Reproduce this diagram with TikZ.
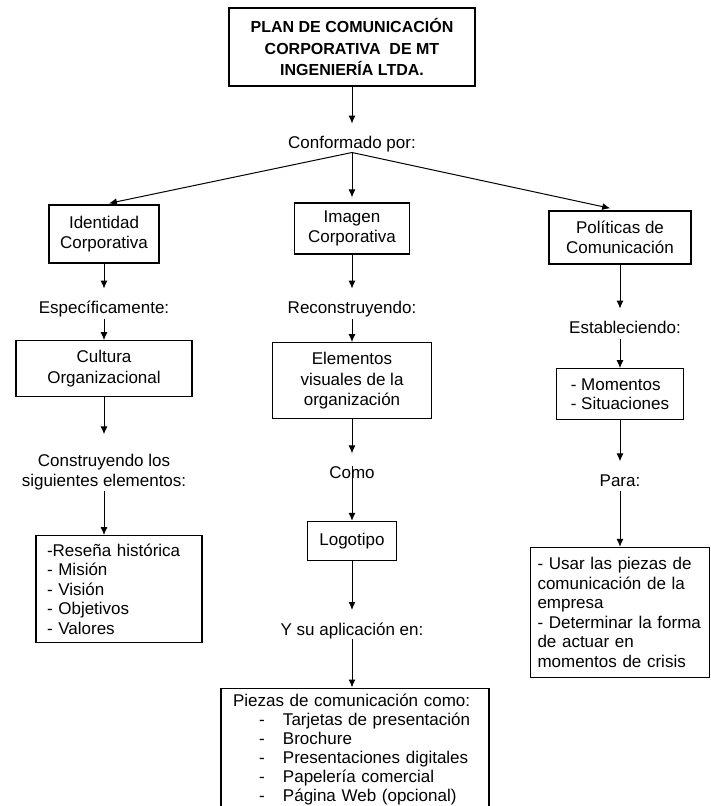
\documentclass[tikz,border=0pt]{standalone}
\usepackage{fontspec}
\setmainfont{Liberation Sans}
\usetikzlibrary{arrows.meta, positioning}
\tikzset{%
  >={Latex[width=7pt,length=8pt]},
  % Estilos de los nodos:
        base/.style = {rectangle, draw=black, line width=1.2pt,
                           align=center, inner sep=4pt,
                           font=\fontsize{17}{20.5}\selectfont},
        titulo/.style = {base, minimum width=246pt, minimum height=78pt,
                           font=\fontsize{16}{21.5}\selectfont\bfseries},
        lista/.style = {base, align=left,
                           font=\fontsize{17}{19.5}\selectfont},
        etiqueta/.style = {inner sep=0pt, text height=12pt, text depth=3.5pt,
                           font=\fontsize{17}{19.5}\selectfont},
        flecha/.style = {->, line width=1pt},
        hacia/.style = {flecha, shorten >=13pt},
        desde/.style = {flecha, shorten <=1pt}
}
\newcommand{\pieza}[1]{\makebox[26pt][l]{}\makebox[24pt][l]{-}#1}

\begin{document}
\begin{tikzpicture}[x=1pt, y=1pt]
  \useasboundingbox (0,0) rectangle (710,-806);
  % Nodos (posicion, etc.)
    \node (plan)    [titulo] at (352,-47)
        {PLAN DE COMUNICACIÓN\\CORPORATIVA~ DE MT\\INGENIERÍA LTDA.};
    \node (conf)    [etiqueta, below=50pt of plan] {Conformado por:};

    % columna izquierda
    \node (ident)   [base, minimum width=110pt, minimum height=58pt]
        at (104,-234) {Identidad\\Corporativa};
    \node (espec)   [etiqueta, below=38pt of ident] {Específicamente:};
    \node (cultura) [base, minimum width=176pt, minimum height=56pt,
                     below=22.6pt of espec] {Cultura\\Organizacional};
    \node (constr)  [etiqueta, text height=, text depth=, align=center,
                     below=57pt of cultura]
        {Construyendo los\\siguientes elementos:};
    \node (resena)  [lista, text width=144pt, inner xsep=11pt,
                     minimum height=107pt, below=45pt of constr, xshift=15pt]
        {-Reseña histórica\\- Misión\\- Visión\\- Objetivos\\- Valores};

    % columna central
    \node (imagen)  [base, minimum width=115pt, minimum height=51pt]
        at (352,-228.5) {Imagen\\Corporativa};
    \node (recons)  [etiqueta, below=47pt of imagen] {Reconstruyendo:};
    \node (elem)    [base, minimum width=159pt, minimum height=76pt,
                     below=24.6pt of recons]
        {Elementos\\visuales de la\\organización};
    \node (como)    [etiqueta, below=47pt of elem] {Como};
    \node (logo)    [base, minimum width=89pt, minimum height=39pt,
                     below=38.6pt of como] {Logotipo};
    \node (ysu)     [etiqueta, below=62pt of logo] {Y su aplicación en:};
    \node (piezas)  [lista, text width=244pt, inner xsep=12pt,
                     font=\fontsize{17}{19}\selectfont,
                     minimum height=123.5pt, below=48.6pt of ysu, xshift=3pt]
        {Piezas de comunicación como:\\
         \pieza{Tarjetas de presentación}\\
         \pieza{Brochure}\\
         \pieza{Presentaciones digitales}\\
         \pieza{Papelería comercial}\\
         \pieza{Página Web (opcional)}};

    % columna derecha
    \node (polit)   [base, minimum width=142pt, minimum height=53pt]
        at (620,-237.5) {Políticas de\\Comunicación};
    \node (estab)   [etiqueta, below=57pt of polit, xshift=5pt] {Estableciendo:};
    \node (moment)  [lista, minimum width=127pt, minimum height=51pt,
                     below=30.6pt of estab, xshift=-5pt]
        {- Momentos\\- Situaciones};
    \node (para)    [etiqueta, below=54pt of moment] {Para:};
    \node (usar)    [lista, text width=165pt, inner xsep=7pt,
                     minimum height=130pt, below=56.6pt of para]
        {- Usar las piezas de\\comunicación de la\\empresa\\- Determinar la forma\\de actuar en\\momentos de crisis};

  % Flechas entre los nodos
  \draw[hacia]    (plan) -- (conf);
  \draw[flecha, shorten >=5pt]  (conf.south) -- (ident.north);
  \draw[flecha, shorten >=5pt]  (conf.south) -- (imagen.north);
  \draw[flecha, shorten >=10pt] (conf.south) -- (polit.north);

  \draw[hacia]    (ident) -- (espec);
  \draw[desde]    (espec) -- (cultura);
  \draw[hacia, shorten >=20pt] (cultura) -- (constr);
  \draw[desde]    (constr) -- (constr |- resena.north);

  \draw[hacia]    (imagen) -- (recons);
  \draw[desde]    (recons) -- (elem);
  \draw[hacia]    (elem) -- (como);
  \draw[flecha]   (como.north) -- (logo);
  \draw[hacia]    (logo) -- (ysu);
  \draw[flecha]   (ysu.south) -- (ysu.south |- piezas.north);

  \draw[hacia]    (polit) -- (polit |- estab.north);
  \draw[desde]    (polit |- estab.south) -- (moment);
  \draw[hacia]    (moment) -- (para);
  \draw[desde]    (para) -- (para |- usar.north);
\end{tikzpicture}
\end{document}
